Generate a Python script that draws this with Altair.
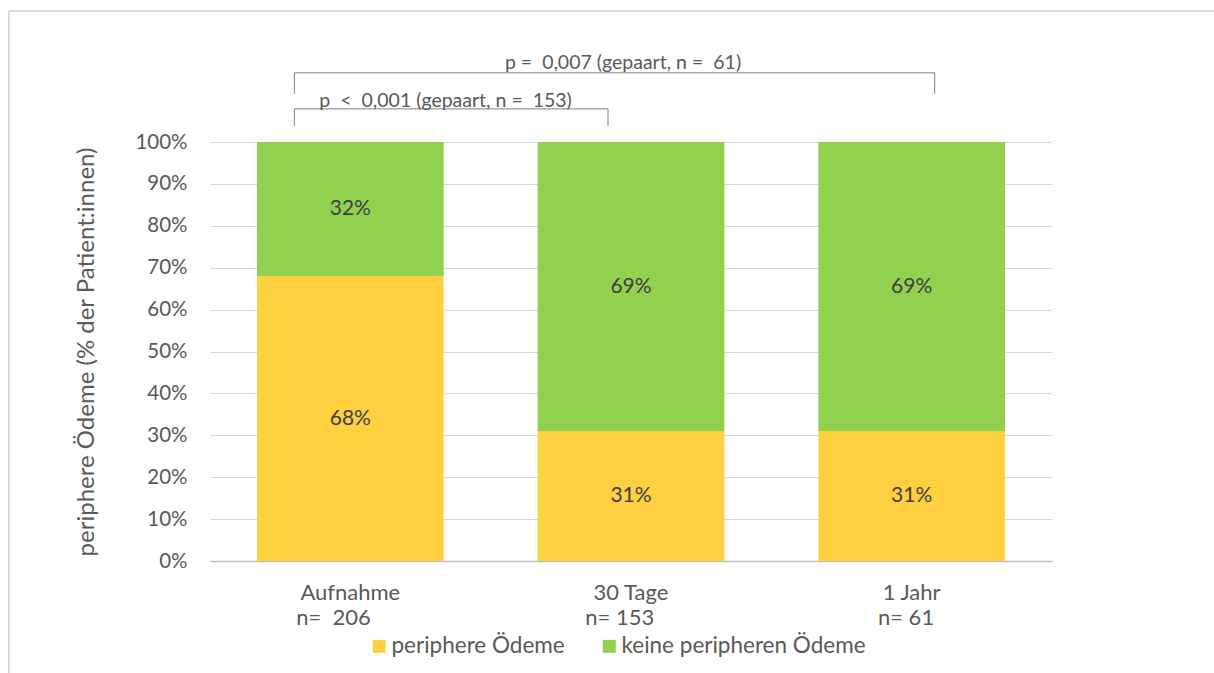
import altair as alt
import pandas as pd

# --- data -------------------------------------------------------------
categories = ["Aufnahme", "30 Tage", "1 Jahr"]
sample_sizes = ["n=\u00a0\u00a0206", "n=\u00a0153", "n=\u00a061"]
with_edema = [68, 31, 31]          # % periphere Ödeme
without_edema = [32, 69, 69]       # % keine peripheren Ödeme
series_names = ["periphere Ödeme", "keine peripheren Ödeme"]
series_colors = ["#FFD040", "#92D050"]

p_labels = [
    "p\u00a0\u00a0<\u00a0\u00a00,001 (gepaart, n =\u00a0\u00a0153)",
    "p =\u00a0\u00a00,007 (gepaart, n =\u00a0\u00a061)",
]
p_from = ["Aufnahme", "Aufnahme"]
p_to = ["30 Tage", "1 Jahr"]

rows = []
for cat, a, b in zip(categories, with_edema, without_edema):
    rows.append({"Zeitpunkt": cat, "Gruppe": series_names[0], "Anteil": a, "Rang": 0})
    rows.append({"Zeitpunkt": cat, "Gruppe": series_names[1], "Anteil": b, "Rang": 1})
df = pd.DataFrame(rows)

FONT = "Lato"
AXIS_TEXT = "#595959"
VALUE_TEXT = "#404040"
NBSP = "\u00a0"
ZWSP = "\u200b"

# two-line category labels (name + sample size); trailing spaces keep the
# second line roughly flush with the first as in the spreadsheet layout
pads = [6, 4, 2]
lines = [(c, n + NBSP * p + ZWSP) for c, n, p in zip(categories, sample_sizes, pads)]
label_expr = ""
for c, n in lines[:-1]:
    label_expr += f"datum.value == '{c}' ? ['{c}', '{n}'] : "
label_expr += f"['{lines[-1][0]}', '{lines[-1][1]}']"

x_enc = alt.X(
    "Zeitpunkt:N",
    sort=categories,
    scale=alt.Scale(domain=categories, paddingInner=0.335, paddingOuter=0.1675),
    axis=alt.Axis(
        title=None, labelAngle=0, labelExpr=label_expr, ticks=False,
        domainColor="#BFBFBF", domainWidth=1.5, labelPadding=21,
        labelLineHeight=25, labelFontSize=22, labelColor=AXIS_TEXT,
        labelFont=FONT, grid=False,
    ),
)
y_scale = alt.Scale(domain=[0, 100], nice=False)

base = alt.Chart(df)

bars = base.mark_bar().encode(
    x=x_enc,
    y=alt.Y(
        "Anteil:Q", stack="zero", scale=y_scale,
        axis=alt.Axis(
            values=list(range(0, 101, 10)), labelExpr="datum.value + '%'",
            title="periphere Ödeme (% der Patient:innen)",
            domain=False, ticks=False, gridColor="#D9D9D9", gridWidth=1,
            labelPadding=23, labelFontSize=20.5, labelColor=AXIS_TEXT,
            labelFont=FONT, titleFont=FONT, titleFontSize=24,
            titleFontWeight="normal", titleColor=AXIS_TEXT, titlePadding=36,
        ),
    ),
    color=alt.Color(
        "Gruppe:N",
        scale=alt.Scale(domain=series_names, range=series_colors),
        legend=alt.Legend(
            orient="none", legendX=158, legendY=493, direction="horizontal",
            title=None, symbolType="square", symbolSize=169,
            symbolStrokeWidth=0, labelFontSize=22.5, labelFont=FONT,
            labelColor=AXIS_TEXT, labelOffset=1, columnPadding=33,
            labelLimit=500,
        ),
    ),
    order=alt.Order("Rang:Q"),
)

values = base.transform_stack(
    stack="Anteil", groupby=["Zeitpunkt"], as_=["y0", "y1"],
    sort=[alt.SortField("Rang")],
).transform_calculate(
    mid="(datum.y0 + datum.y1) / 2", txt="datum.Anteil + '%'"
).mark_text(font=FONT, fontSize=21, color=VALUE_TEXT, baseline="middle").encode(
    x=alt.X("Zeitpunkt:N", sort=categories),
    y=alt.Y("mid:Q", scale=y_scale),
    text="txt:N",
)

one = pd.DataFrame({"k": [0]})
LINE = "#7F7F7F"


def bracket(start, end, text, top, foot, left_off, right_off, text_at, text_dx, text_y, align):
    c = alt.Chart(one)
    horiz = c.mark_rule(color=LINE, strokeWidth=1, xOffset=left_off, x2Offset=right_off).encode(
        x=alt.datum(start), x2=alt.datum(end), y=alt.datum(top)
    )
    leg_l = c.mark_rule(color=LINE, strokeWidth=1, xOffset=left_off).encode(
        x=alt.datum(start), y=alt.datum(top), y2=alt.datum(foot)
    )
    leg_r = c.mark_rule(color=LINE, strokeWidth=1, xOffset=right_off).encode(
        x=alt.datum(end), y=alt.datum(top), y2=alt.datum(foot)
    )
    lab = c.mark_text(
        font=FONT, fontSize=19.5, color=AXIS_TEXT, align=align, baseline="middle", dx=text_dx
    ).encode(x=alt.datum(text_at), y=alt.datum(text_y), text=alt.value(text))
    return [horiz, leg_l, leg_r, lab]


brackets = []
brackets += bracket(p_from[0], p_to[0], p_labels[0], 107.9, 103.8, -56, -23, p_from[0], -31, 109.8, "left")
brackets += bracket(p_from[1], p_to[1], p_labels[1], 116.5, 111.5, -56, 23, p_to[0], -8, 118.8, "center")

# light frame around the chart area
frame = alt.Chart(one)
frame_top = frame.mark_rule(color="#D9D9D9", strokeWidth=2).encode(
    x=alt.value(-201), x2=alt.value(1020), y=alt.value(-131)
)
frame_left = frame.mark_rule(color="#D9D9D9", strokeWidth=2).encode(
    x=alt.value(-201), y=alt.value(-131), y2=alt.value(540)
)

chart = alt.layer(bars, values, *brackets, frame_top, frame_left).properties(
    width=842, height=419,
    autosize=alt.AutoSizeParams(type="none"),
    padding={"left": 210, "top": 142, "right": 162, "bottom": 112},
    background="white",
).configure_view(stroke=None)

chart.save("out.html", embed_options={"renderer": "svg", "actions": False})
